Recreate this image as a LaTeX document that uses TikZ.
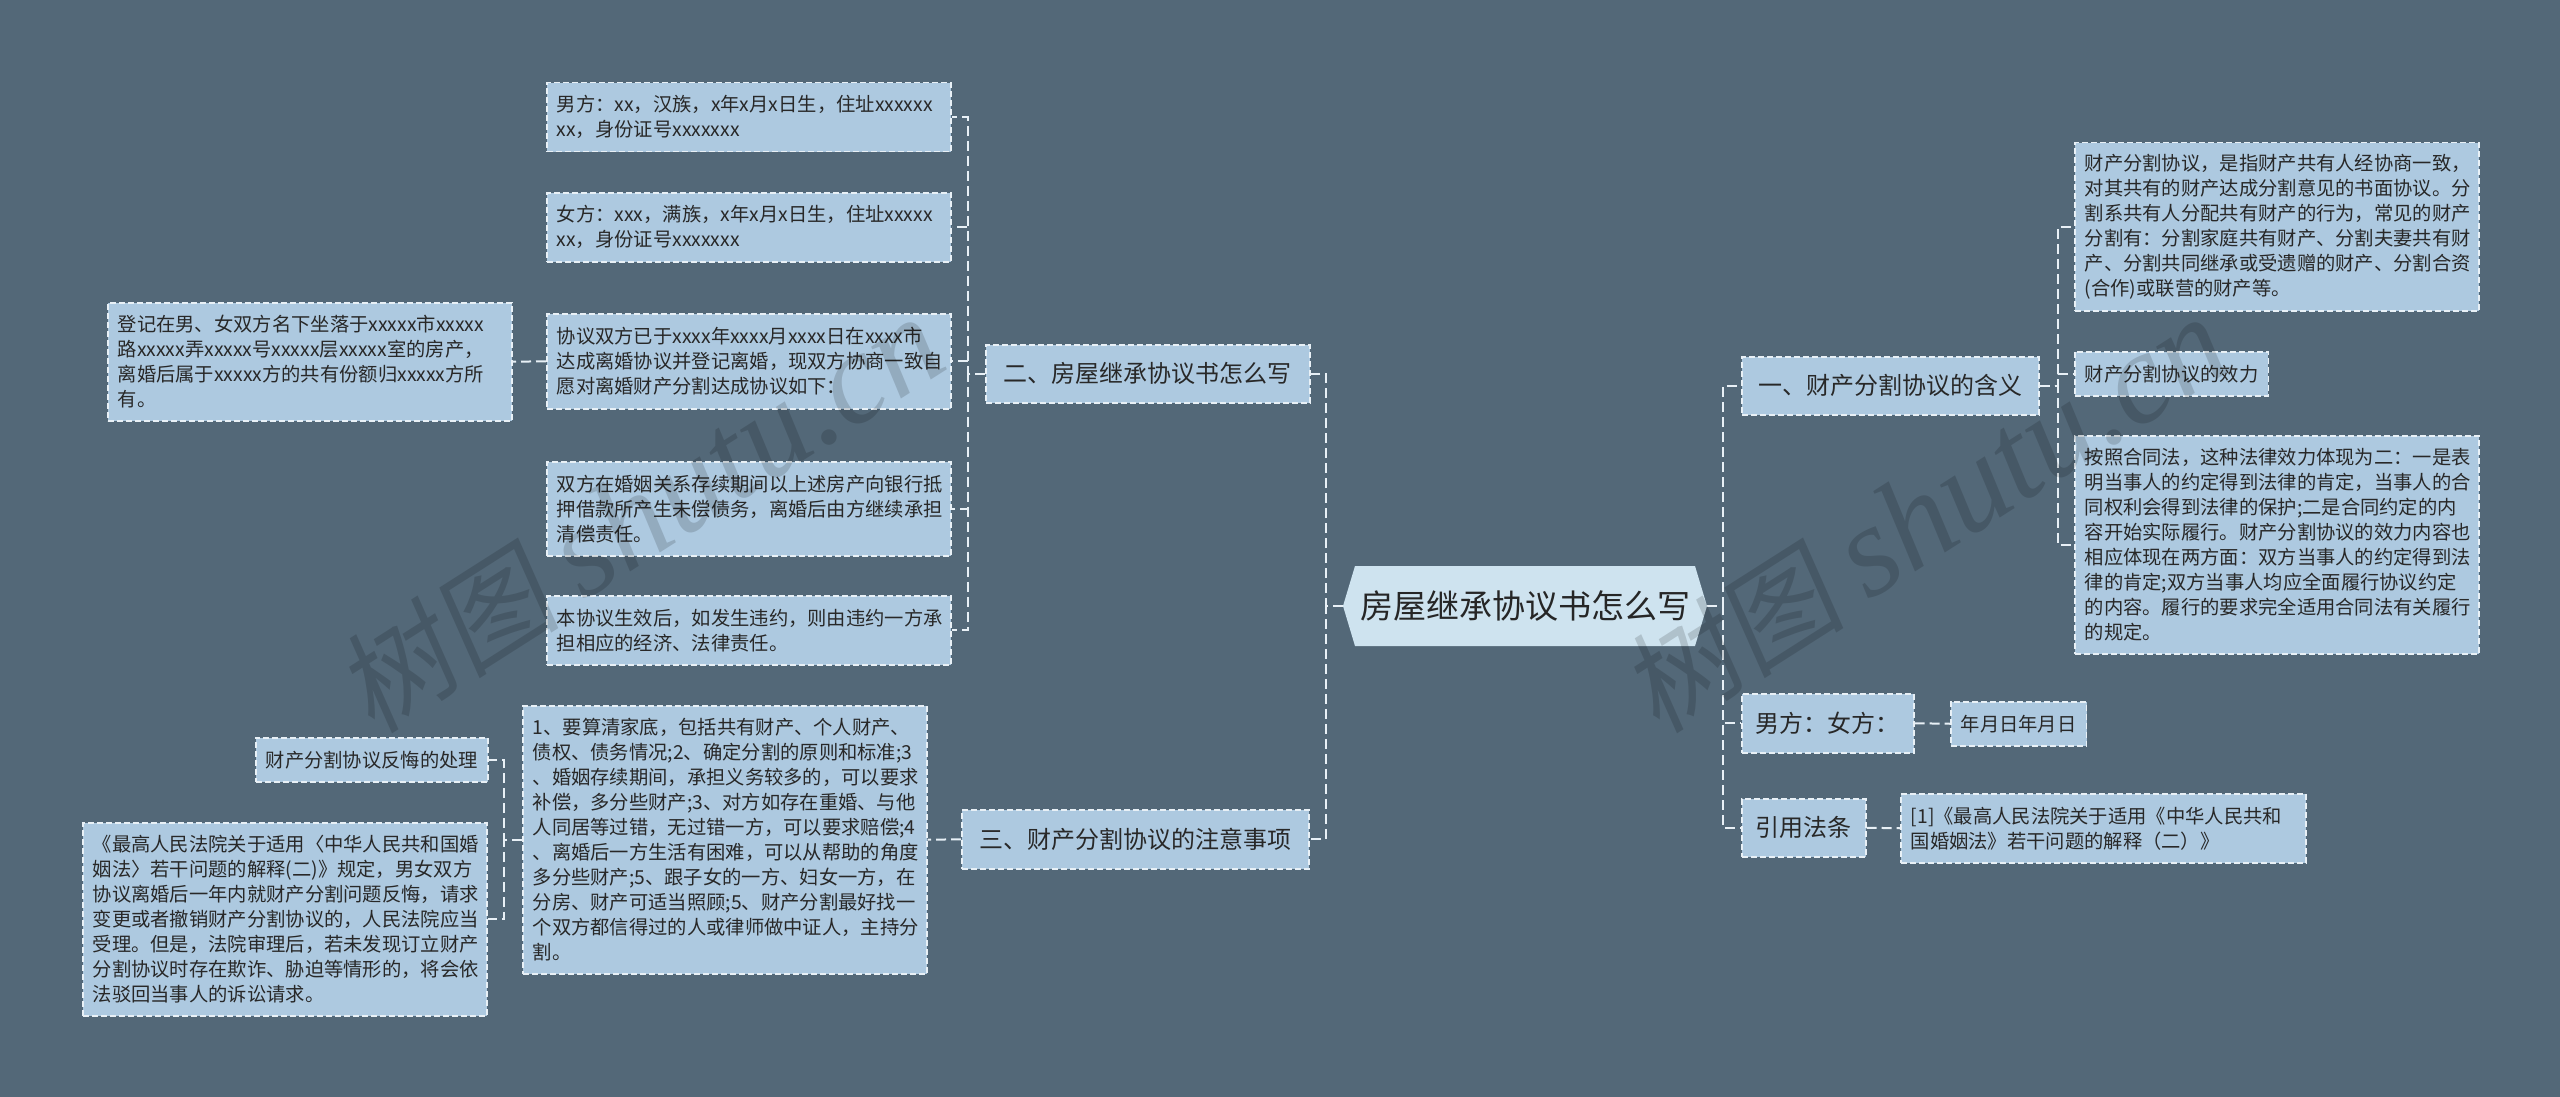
\documentclass[tikz,border=0pt]{standalone}
\usepackage{fontspec}
\setmainfont{Noto Sans CJK SC}
\newfontfamily\wmlatin{Liberation Serif}
\newfontfamily\wmcjk[FakeSlant=0.15]{Noto Sans CJK SC}
\definecolor{bgc}{RGB}{83,104,120}
\definecolor{boxfill}{RGB}{173,201,224}
\definecolor{centerfill}{RGB}{206,227,239}
\definecolor{dashc}{RGB}{232,240,246}
\definecolor{txt}{RGB}{40,40,40}
\tikzset{
  basebox/.style={draw=dashc, line width=1.5pt, dash pattern=on 6pt off 3pt, fill=boxfill, text=txt, anchor=north west},
  leaf/.style={basebox, inner xsep=10pt, inner ysep=0pt, font=\fontsize{19.3}{25}\selectfont, align=left},
  topic/.style={basebox, inner sep=0pt, font=\fontsize{24}{30}\selectfont, align=center},
  edge/.style={draw=dashc, line width=2pt, dash pattern=on 10pt off 5pt},
  wmark/.style={rotate=32.5, opacity=0.15, text=black, font=\fontsize{112}{120}\selectfont}
}
\begin{document}
\begin{tikzpicture}[x=1pt,y=-1pt]
\fill[bgc] (0,0) rectangle (2560,1097);
\useasboundingbox (0,0) rectangle (2560,1097);

% center
\fill[centerfill] (1343,606) -- (1355,566) -- (1695,566) -- (1707,606) -- (1695,646) -- (1355,646) -- cycle;
\node[text=black!85, font=\fontsize{33}{38}\selectfont, inner sep=0pt] (c) at (1525,606) {房屋继承协议书怎么写};
\coordinate (cL) at (1343,606);
\coordinate (cR) at (1707,606);

% left branch 1
\node[topic, minimum width=324pt, minimum height=58pt] (L1) at (985,344) {二、房屋继承协议书怎么写};
\node[leaf, text width=384pt, minimum height=69pt] (L1a) at (546,82) {男方：xx，汉族，x年x月x日生，住址xxxxxx\\xx，身份证号xxxxxxx};
\node[leaf, text width=384pt, minimum height=69pt] (L1b) at (546,192) {女方：xxx，满族，x年x月x日生，住址xxxxx\\xx，身份证号xxxxxxx};
\node[leaf, text width=384pt, minimum height=95pt] (L1c) at (546,313) {协议双方已于xxxx年xxxx月xxxx日在xxxx市\\达成离婚协议并登记离婚，现双方协商一致自\\愿对离婚财产分割达成协议如下：};
\node[leaf, text width=384pt, minimum height=118pt] (L1c1) at (107,302) {登记在男、女双方名下坐落于xxxxx市xxxxx\\路xxxxx弄xxxxx号xxxxx层xxxxx室的房产，\\离婚后属于xxxxx方的共有份额归xxxxx方所\\有。};
\node[leaf, text width=384pt, minimum height=94pt] (L1d) at (546,461) {双方在婚姻关系存续期间以上述房产向银行抵\\押借款所产生未偿债务，离婚后由方继续承担\\清偿责任。};
\node[leaf, text width=384pt, minimum height=69pt] (L1e) at (546,595) {本协议生效后，如发生违约，则由违约一方承\\担相应的经济、法律责任。};

% left branch 2
\node[topic, minimum width=347pt, minimum height=59pt] (L2) at (961,809) {三、财产分割协议的注意事项};
\node[leaf, text width=384pt, minimum height=268pt] (L2a) at (522,705) {1、要算清家底，包括共有财产、个人财产、\\债权、债务情况;2、确定分割的原则和标准;3\\、婚姻存续期间，承担义务较多的，可以要求\\补偿，多分些财产;3、对方如存在重婚、与他\\人同居等过错，无过错一方，可以要求赔偿;4\\、离婚后一方生活有困难，可以从帮助的角度\\多分些财产;5、跟子女的一方、妇女一方，在\\分房、财产可适当照顾;5、财产分割最好找一\\个双方都信得过的人或律师做中证人，主持分\\割。};
\node[leaf, minimum width=231pt, minimum height=44pt] (L2a1) at (255,737) {财产分割协议反悔的处理};
\node[leaf, text width=384pt, minimum height=193pt] (L2a2) at (82,822) {《最高人民法院关于适用〈中华人民共和国婚\\姻法〉若干问题的解释(二)》规定，男女双方\\协议离婚后一年内就财产分割问题反悔，请求\\变更或者撤销财产分割协议的，人民法院应当\\受理。但是，法院审理后，若未发现订立财产\\分割协议时存在欺诈、胁迫等情形的，将会依\\法驳回当事人的诉讼请求。};

% right branch 1
\node[topic, minimum width=297pt, minimum height=58pt] (R1) at (1741,356) {一、财产分割协议的含义};
\node[leaf, text width=384pt, minimum height=168pt] (R1a) at (2074,142) {财产分割协议，是指财产共有人经协商一致，\\对其共有的财产达成分割意见的书面协议。分\\割系共有人分配共有财产的行为，常见的财产\\分割有：分割家庭共有财产、分割夫妻共有财\\产、分割共同继承或受遗赠的财产、分割合资\\(合作)或联营的财产等。};
\node[leaf, minimum width=191pt, minimum height=44pt] (R1b) at (2074,351) {财产分割协议的效力};
\node[leaf, text width=384pt, minimum height=218pt] (R1c) at (2074,435) {按照合同法，这种法律效力体现为二：一是表\\明当事人的约定得到法律的肯定，当事人的合\\同权利会得到法律的保护;二是合同约定的内\\容开始实际履行。财产分割协议的效力内容也\\相应体现在两方面：双方当事人的约定得到法\\律的肯定;双方当事人均应全面履行协议约定\\的内容。履行的要求完全适用合同法有关履行\\的规定。};

% right branch 2, 3
\node[topic, minimum width=172pt, minimum height=59pt] (R2) at (1741,693) {男方：女方：};
\node[leaf, minimum width=134pt, minimum height=44pt] (R2a) at (1950,701) {年月日年月日};
\node[topic, minimum width=124pt, minimum height=58pt] (R3) at (1741,798) {引用法条};
\node[leaf, text width=385pt, minimum height=69pt] (R3a) at (1900,793) {[1]《最高人民法院关于适用《中华人民共和\\国婚姻法》若干问题的解释（二）》};

% connectors
\draw[edge] (cL) -- ++(-17,0) |- (L1.east);
\draw[edge] (cL) -- ++(-17,0) |- (L2.east);
\draw[edge] (cR) -- ++(16,0) |- (R1.west);
\draw[edge] (cR) -- ++(16,0) |- (R2.west);
\draw[edge] (cR) -- ++(16,0) |- (R3.west);
\foreach \k in {L1a,L1b,L1c,L1d,L1e}{\draw[edge] (L1.west) -- ++(-17,0) |- (\k.east);}
\draw[edge] (L1c.west) -- (L1c1.east);
\draw[edge] (L2.west) -- (L2a.east);
\foreach \k in {L2a1,L2a2}{\draw[edge] (L2a.west) -- ++(-18,0) |- (\k.east);}
\foreach \k in {R1a,R1b,R1c}{\draw[edge] (R1.east) -- ++(18,0) |- (\k.west);}
\draw[edge] (R2.east) -- (R2a.west);
\draw[edge] (R3.east) -- (R3a.west);

% watermarks
\node[wmark] (wm1) at (640,515) {{\wmcjk 树图} {\wmlatin\itshape\fontsize{130}{130}\selectfont shutu.cn}};
\node[wmark] (wm2) at (1925,515) {{\wmcjk 树图} {\wmlatin\itshape\fontsize{130}{130}\selectfont shutu.cn}};
\end{tikzpicture}
\end{document}
